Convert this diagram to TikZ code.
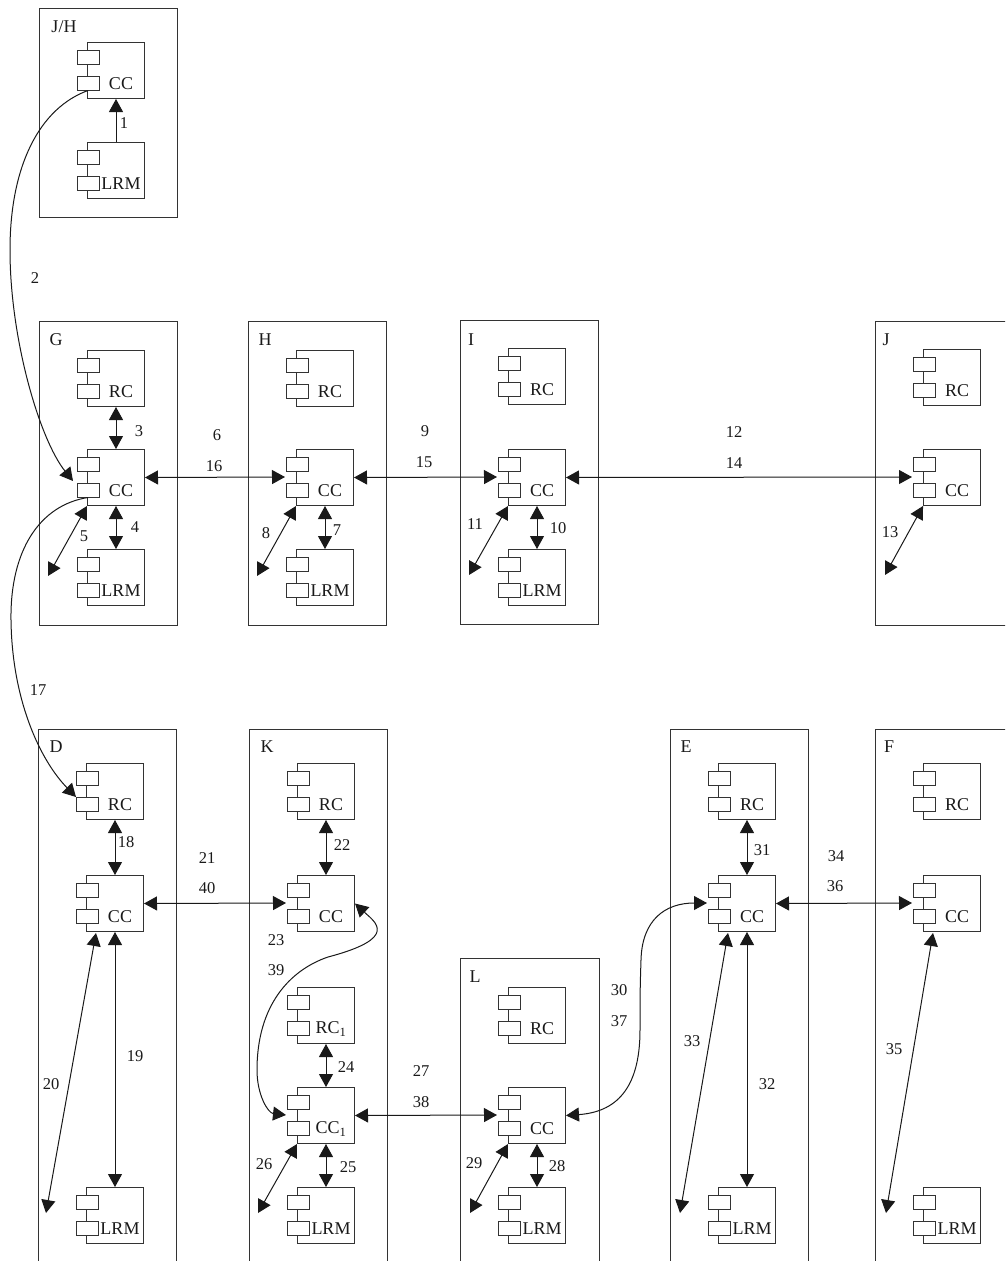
\documentclass[tikz,border=0pt]{standalone}
\usepackage{fontspec}
\setmainfont{Liberation Serif}
\usetikzlibrary{arrows.meta}

\begin{document}
\begin{tikzpicture}[>={Triangle[length=13pt,width=14pt]},
  x=1pt,y=-1pt,
  frm/.style={draw,black!80,line width=1pt,anchor=north west,inner sep=0pt},
  cmp/.style={draw,black!80,line width=1pt,anchor=north west,inner sep=0pt,minimum width=57pt,minimum height=56pt},
  tabb/.style={draw,black!80,line width=1pt,fill=white,inner sep=0pt,minimum width=22pt,minimum height=14pt},
  txt/.style={font=\fontsize{18}{18}\selectfont,inner sep=0pt,text=black!90},
  num/.style={font=\fontsize{16.5}{16.5}\selectfont,inner sep=0pt,text=black!90},
  arr/.style={black!90,line width=1pt}]
\path[use as bounding box,clip] (0,0) rectangle (1005,1261);
% boxes, the lower row and the right column run off the page
\foreach \name/\x/\y/\w/\h/\lx/\ly/\title in {
  jh/39/8/138/209/64/27/{J/H},
  g/39/321/138/304/56/340/G, h/248/321/138/304/265/340/H, i/460/320/138/304/471/340/I, j/875/321/140/304/886/340/J,
  d/38/729/138/540/56/747/D, k/249/729/138/540/267/747/K, l/460/958/139/310/475/977/L,
  e/670/729/138/540/686/747/E, f/875/729/140/540/889/747/F}{
  \node[frm,minimum width=\w pt,minimum height=\h pt] (box-\name) at (\x,\y) {};
  \node[txt] (title-\name) at (\lx,\ly) {\title};
}
% components: body, two tabs, port between the tabs, label
\foreach \name/\x/\y/\label in {
  jh-cc/87/42/CC, jh-lrm/87/142/LRM,
  g-rc/87/350/RC, g-cc/87/449/CC, g-lrm/87/549/LRM,
  h-rc/296/350/RC, h-cc/296/449/CC, h-lrm/296/549/LRM,
  i-rc/508/348/RC, i-cc/508/449/CC, i-lrm/508/549/LRM,
  j-rc/923/349/RC, j-cc/923/449/CC,
  d-rc/86/763/RC, d-cc/86/875/CC, d-lrm/86/1187/LRM,
  k-rc/297/763/RC, k-cc/297/875/CC, k-rc1/297/987/{RC\textsubscript{1}}, k-cc1/297/1087/{CC\textsubscript{1}}, k-lrm/297/1187/LRM,
  l-rc/508/987/RC, l-cc/508/1087/CC, l-lrm/508/1187/LRM,
  e-rc/718/763/RC, e-cc/718/875/CC, e-lrm/718/1187/LRM,
  f-rc/923/763/RC, f-cc/923/875/CC, f-lrm/923/1187/LRM}{
  \node[cmp] (\name) at (\x,\y) {};
  \node[tabb] (\name-a) at ({\x+1},{\y+15}) {};
  \node[tabb] (\name-b) at ({\x+1},{\y+41}) {};
  \coordinate (\name-p) at ({\x-11},{\y+28});
  \node[txt] (\name-t) at ({\x+34},{\y+42}) {\label};
}
% free ends of the slanted arrows
\foreach \name/\x/\y in {g-end/48/576, h-end/257/576, i-end/469/575, j-end/885/575,
  d-end/46/1213, k-end/258/1213, l-end/470/1213, e-end/680/1213, f-end/886/1213,
  d-top/96/933, e-top/728/933, f-top/933/933, g-in/73/481, d-in/76/797}{
  \coordinate (\name) at (\x,\y);
}
% straight arrows
\draw[arr,->] (jh-lrm.north) -- (jh-cc.south);
\foreach \a/\b in {g-rc.south/g-cc.north, g-cc.south/g-lrm.north, h-cc.south/h-lrm.north,
  i-cc.south/i-lrm.north, d-rc.south/d-cc.north, d-cc.south/d-lrm.north,
  k-rc.south/k-cc.north, k-rc1.south/k-cc1.north, k-cc1.south/k-lrm.north,
  l-cc.south/l-lrm.north, e-rc.south/e-cc.north, e-cc.south/e-lrm.north,
  g-cc.east/h-cc-p, h-cc.east/i-cc-p, i-cc.east/j-cc-p, d-cc.east/k-cc-p,
  k-cc1.east/l-cc-p, e-cc.east/f-cc-p,
  g-cc.south west/g-end, h-cc.south west/h-end, i-cc.south west/i-end, j-cc.south west/j-end,
  k-cc1.south west/k-end, l-cc.south west/l-end,
  d-top/d-end, e-top/e-end, f-top/f-end}{
  \draw[arr,<->] (\a) -- (\b);
}
% curved arrows
\draw[arr,->] (jh-cc-b.south) .. controls (40,108) and (10,165) .. (10,250)
  .. controls (10,340) and (40,440) .. (g-in);
\draw[arr,->] (g-cc-b.south) .. controls (40,505) and (10,550) .. (11,620)
  .. controls (12,700) and (40,760) .. (d-in);
\draw[arr,<->] (k-cc.east) .. controls (375,922) and (400,938) .. (328,957)
  .. controls (290,970) and (257,1005) .. (257,1070)
  .. controls (257,1095) and (268,1113) .. (k-cc1-p);
\draw[arr,<->] (l-cc.east) .. controls (615,1112) and (640,1090) .. (640,1030)
  .. controls (640,1000) and (640,990) .. (641,960)
  .. controls (642,920) and (665,903) .. (e-cc-p);
% numbers
\foreach \n/\x/\y in {1/124/123, 2/35/278, 3/139/431, 4/135/527, 5/84/536, 6/217/435, 16/214/466,
  7/337/530, 8/266/533, 9/425/431, 15/424/462, 10/558/528, 11/475/524, 12/734/432, 14/734/463,
  13/890/532, 17/38/690, 18/126/842, 19/135/1056, 20/51/1084, 21/207/858, 40/207/888, 22/342/845,
  23/276/940, 39/276/970, 24/346/1067, 25/348/1167, 26/264/1164, 27/421/1071, 38/421/1102,
  28/557/1166, 29/474/1163, 30/619/990, 37/619/1021, 31/762/850, 32/767/1084, 33/692/1041,
  34/836/856, 36/835/886, 35/894/1049}{
  \node[num] (n\n) at (\x,\y) {\n};
}
\end{tikzpicture}
\end{document}
